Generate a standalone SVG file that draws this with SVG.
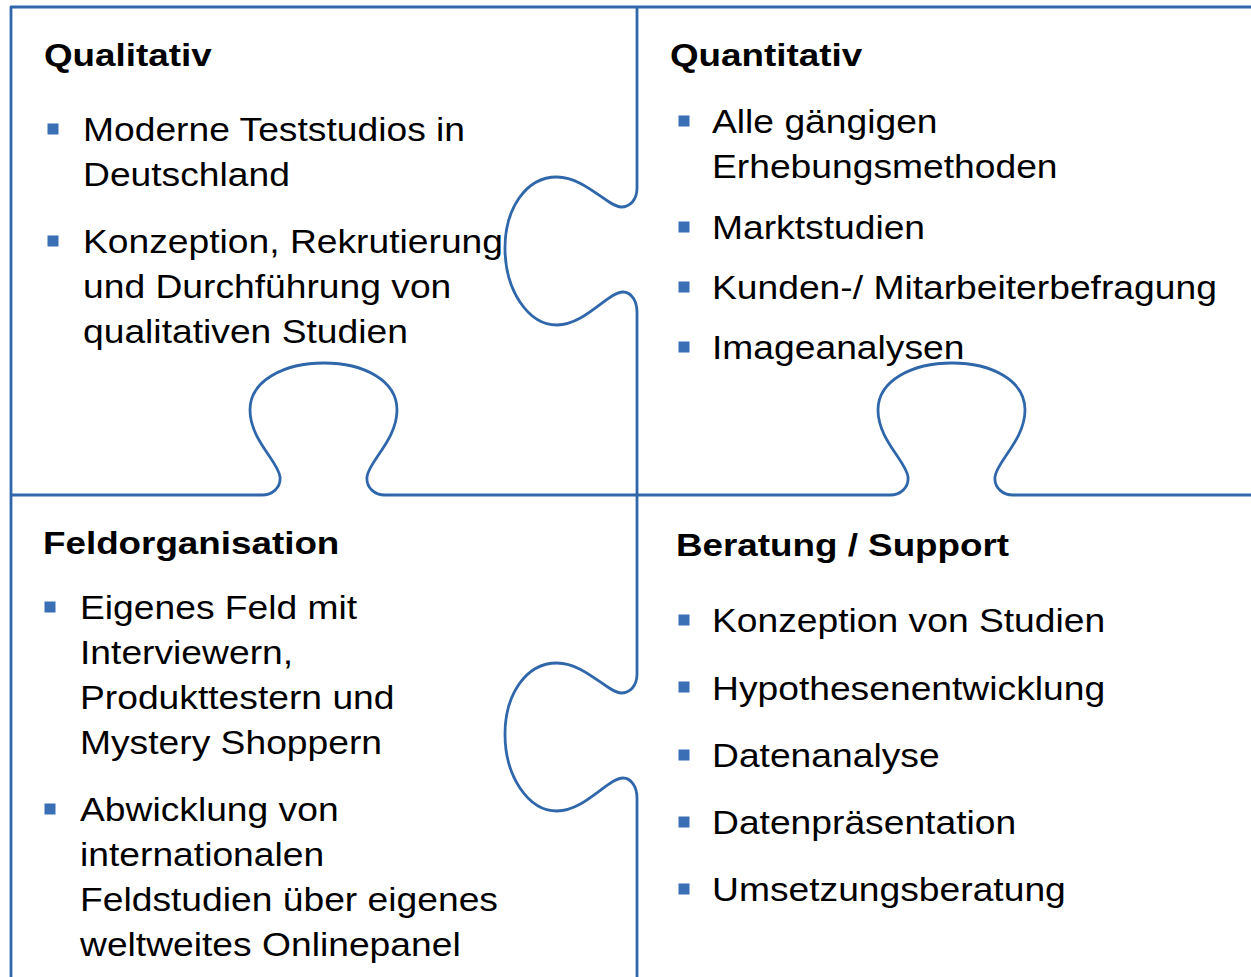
<svg xmlns="http://www.w3.org/2000/svg" width="1251" height="977" viewBox="0 0 1251 977">
<style>
.ln{fill:none;stroke:#2F67AA;stroke-width:2.8;stroke-linejoin:round;stroke-linecap:butt}
.b{fill:#3A6FB5}
.h{font-family:"Liberation Sans",Arial,sans-serif;font-weight:bold;font-size:32px;fill:#000}
.t{font-family:"Liberation Sans",Arial,sans-serif;font-size:34px;fill:#000}
</style>
<rect width="1251" height="977" fill="#fff"/>
<g id="connectors">
<path class="ln" d="M11,977 V7 H1251"/>
<path class="ln" d="M637,7 V188 C637,200 630,207 621,207 C608,207 585,177 557,177 C525,177 505,210 505,248 C505,290 528,325 557,325 C585,325 608,292 623,292 C632,292 637,302 637,312 V674 C637,686 630,693 621,693 C608,693 585,663 557,663 C525,663 505,696 505,734 C505,776 528,811 557,811 C585,811 608,778 623,778 C632,778 637,788 637,798 V977"/>
<path class="ln" d="M11,495 H262 C272,495 281,488 280,477 C279,462 250,440 250,410 C250,380 285,363 324,363 C363,363 397,380 397,410 C397,440 368,462 367,477 C366,488 375,495 385,495 H890 C900,495 909,488 908,477 C907,462 878,440 878,410 C878,380 913,363 952,363 C991,363 1025,380 1025,410 C1025,440 996,462 995,477 C994,488 1003,495 1013,495 H1251"/>
</g>
<g id="qualitativ">
<text class="h" transform="matrix(1.15 0 0 1 44 66)">Qualitativ</text>
<rect class="b" x="47.5" y="123.5" width="11" height="11"/>
<rect class="b" x="47.5" y="235.5" width="11" height="11"/>
<text class="t" transform="matrix(1.095 0 0 1 83 141)"><tspan x="0" y="0">Moderne Teststudios in</tspan><tspan x="0" y="45">Deutschland</tspan></text>
<text class="t" transform="matrix(1.095 0 0 1 83 253)"><tspan x="0" y="0">Konzeption, Rekrutierung</tspan><tspan x="0" y="45">und Durchführung von</tspan><tspan x="0" y="90">qualitativen Studien</tspan></text>
</g>
<g id="quantitativ">
<text class="h" transform="matrix(1.15 0 0 1 670 66)">Quantitativ</text>
<rect class="b" x="678.5" y="115.5" width="11" height="11"/>
<rect class="b" x="678.5" y="221.5" width="11" height="11"/>
<rect class="b" x="678.5" y="281.5" width="11" height="11"/>
<rect class="b" x="678.5" y="341.5" width="11" height="11"/>
<text class="t" transform="matrix(1.095 0 0 1 712 133)"><tspan x="0" y="0">Alle gängigen</tspan><tspan x="0" y="45">Erhebungsmethoden</tspan></text>
<text class="t" transform="matrix(1.095 0 0 1 712 239)">Marktstudien</text>
<text class="t" transform="matrix(1.095 0 0 1 712 299)">Kunden-/ Mitarbeiterbefragung</text>
<text class="t" transform="matrix(1.095 0 0 1 712 359)">Imageanalysen</text>
</g>
<g id="feldorganisation">
<text class="h" transform="matrix(1.15 0 0 1 43 554)">Feldorganisation</text>
<rect class="b" x="44.5" y="601.5" width="11" height="11"/>
<rect class="b" x="44.5" y="803.5" width="11" height="11"/>
<text class="t" transform="matrix(1.095 0 0 1 80 619)"><tspan x="0" y="0">Eigenes Feld mit</tspan><tspan x="0" y="45">Interviewern,</tspan><tspan x="0" y="90">Produkttestern und</tspan><tspan x="0" y="135">Mystery Shoppern</tspan></text>
<text class="t" transform="matrix(1.095 0 0 1 80 821)"><tspan x="0" y="0">Abwicklung von</tspan><tspan x="0" y="45">internationalen</tspan><tspan x="0" y="90">Feldstudien über eigenes</tspan><tspan x="0" y="135">weltweites Onlinepanel</tspan></text>
</g>
<g id="beratung">
<text class="h" transform="matrix(1.15 0 0 1 676 556)">Beratung / Support</text>
<rect class="b" x="678.5" y="614.5" width="11" height="11"/>
<rect class="b" x="678.5" y="681.5" width="11" height="11"/>
<rect class="b" x="678.5" y="749.5" width="11" height="11"/>
<rect class="b" x="678.5" y="816.5" width="11" height="11"/>
<rect class="b" x="678.5" y="883.5" width="11" height="11"/>
<text class="t" transform="matrix(1.095 0 0 1 712 632)">Konzeption von Studien</text>
<text class="t" transform="matrix(1.095 0 0 1 712 700)">Hypothesenentwicklung</text>
<text class="t" transform="matrix(1.095 0 0 1 712 767)">Datenanalyse</text>
<text class="t" transform="matrix(1.095 0 0 1 712 834)">Datenpräsentation</text>
<text class="t" transform="matrix(1.095 0 0 1 712 901)">Umsetzungsberatung</text>
</g>
</svg>
